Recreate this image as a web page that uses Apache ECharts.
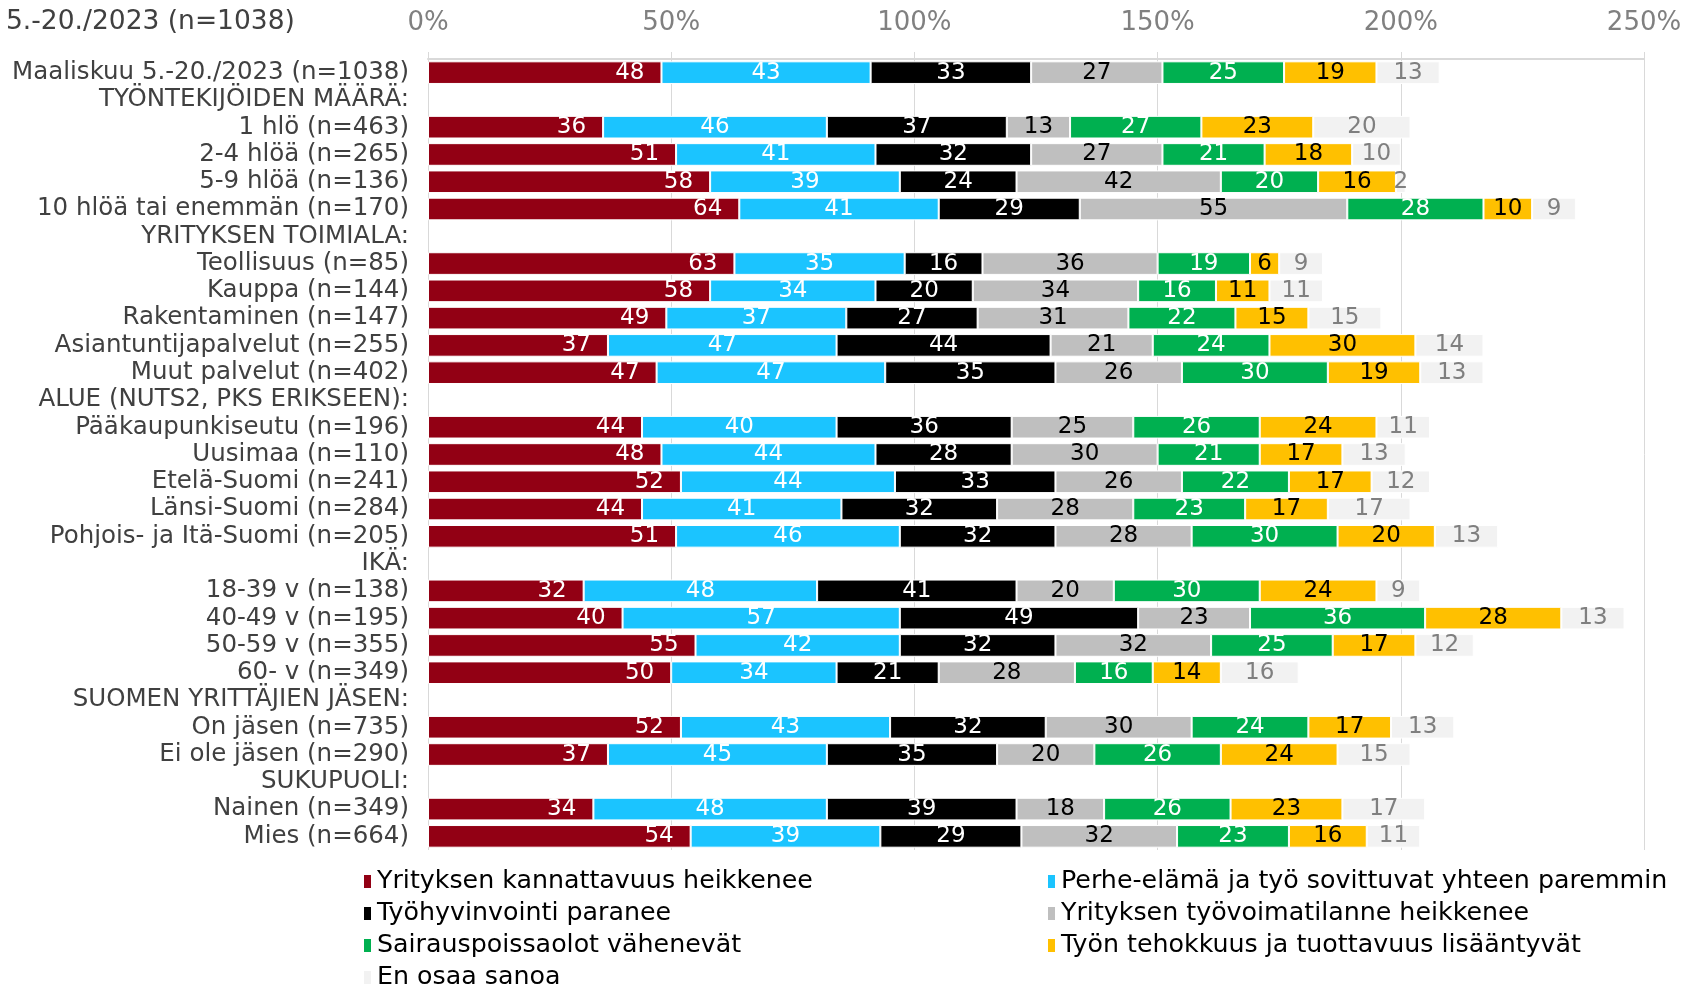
<!DOCTYPE html>
<html>
<head>
<meta charset="utf-8">
<script src="https://cdn.jsdelivr.net/npm/echarts@6/dist/echarts.min.js"></script>
<style>
  html, body { margin: 0; padding: 0; background: #fff; }
  #chart { width: 1685px; height: 985px; }
</style>
</head>
<body>
<div id="chart"></div>
<script>
// rivit ylhäältä alas (otsikkoriveillä ei arvoja)
const categories = [
  'Maaliskuu 5.-20./2023 (n=1038)',
  'TYÖNTEKIJÖIDEN MÄÄRÄ:',
  '1 hlö (n=463)',
  '2-4 hlöä (n=265)',
  '5-9 hlöä (n=136)',
  '10 hlöä tai enemmän (n=170)',
  'YRITYKSEN TOIMIALA:',
  'Teollisuus (n=85)',
  'Kauppa (n=144)',
  'Rakentaminen (n=147)',
  'Asiantuntijapalvelut (n=255)',
  'Muut palvelut (n=402)',
  'ALUE (NUTS2, PKS ERIKSEEN):',
  'Pääkaupunkiseutu (n=196)',
  'Uusimaa (n=110)',
  'Etelä-Suomi (n=241)',
  'Länsi-Suomi (n=284)',
  'Pohjois- ja Itä-Suomi (n=205)',
  'IKÄ:',
  '18-39 v (n=138)',
  '40-49 v (n=195)',
  '50-59 v (n=355)',
  '60- v (n=349)',
  'SUOMEN YRITTÄJIEN JÄSEN:',
  'On jäsen (n=735)',
  'Ei ole jäsen (n=290)',
  'SUKUPUOLI:',
  'Nainen (n=349)',
  'Mies (n=664)'
]

const seriesNames = [
  'Yrityksen kannattavuus heikkenee',
  'Perhe-elämä ja työ sovittuvat yhteen paremmin',
  'Työhyvinvointi paranee',
  'Yrityksen työvoimatilanne heikkenee',
  'Sairauspoissaolot vähenevät',
  'Työn tehokkuus ja tuottavuus lisääntyvät',
  'En osaa sanoa'
]

const kannattavuus = [48, null, 36, 51, 58, 64, null, 63, 58, 49, 37, 47, null, 44, 48, 52, 44, 51, null, 32, 40, 55, 50, null, 52, 37, null, 34, 54]
const perhe = [43, null, 46, 41, 39, 41, null, 35, 34, 37, 47, 47, null, 40, 44, 44, 41, 46, null, 48, 57, 42, 34, null, 43, 45, null, 48, 39]
const hyvinvointi = [33, null, 37, 32, 24, 29, null, 16, 20, 27, 44, 35, null, 36, 28, 33, 32, 32, null, 41, 49, 32, 21, null, 32, 35, null, 39, 29]
const tyovoima = [27, null, 13, 27, 42, 55, null, 36, 34, 31, 21, 26, null, 25, 30, 26, 28, 28, null, 20, 23, 32, 28, null, 30, 20, null, 18, 32]
const sairaus = [25, null, 27, 21, 20, 28, null, 19, 16, 22, 24, 30, null, 26, 21, 22, 23, 30, null, 30, 36, 25, 16, null, 24, 26, null, 26, 23]
const tehokkuus = [19, null, 23, 18, 16, 10, null, 6, 11, 15, 30, 19, null, 24, 17, 17, 17, 20, null, 24, 28, 17, 14, null, 17, 24, null, 23, 16]
const eos = [13, null, 20, 10, 2, 9, null, 9, 11, 15, 14, 13, null, 11, 13, 12, 17, 13, null, 9, 13, 12, 16, null, 13, 15, null, 17, 11]

const xTicks = [0, 50, 100, 150, 200, 250]

const values = [kannattavuus, perhe, hyvinvointi, tyovoima, sairaus, tehokkuus, eos]
const colors = ['#920014', '#1BC4FF', '#000000', '#BFBFBF', '#00B050', '#FFC000', '#F2F2F2']
const labelColors = ['#fff', '#fff', '#fff', '#000', '#fff', '#000', '#7F7F7F']

const FONT = 'DejaVu Sans'

const chart = echarts.init(document.getElementById('chart'))

const series = values.map((data, i) => ({
  name: seriesNames[i],
  type: 'bar',
  stack: 'total',
  data: data,
  barCategoryGap: '17%',
  itemStyle: { color: colors[i], borderColor: '#fff', borderWidth: 1 },
  label: {
    show: true,
    position: i === 0 ? 'insideRight' : 'inside',
    distance: 17,
    color: labelColors[i],
    fontFamily: FONT,
    fontSize: 23,
    formatter: p => (p.value == null ? '' : p.value)
  },
  emphasis: { disabled: true },
  animation: false
}))

const legendBase = {
  orient: 'vertical',
  top: 864,
  height: 130,
  itemWidth: 9,
  itemHeight: 15,
  itemGap: 7,
  icon: 'rect',
  textStyle: { fontSize: 25.3, color: '#000', fontFamily: FONT, lineHeight: 25 },
  selectedMode: false
}

chart.setOption({
  textStyle: { fontFamily: FONT },
  graphic: [{
    type: 'text',
    left: 6,
    top: 9,
    style: { text: '5.-20./2023 (n=1038)', fill: '#404040', font: '26.5px "' + FONT + '"' }
  }],
  legend: [
    Object.assign({}, legendBase, {
      data: [seriesNames[0], seriesNames[2], seriesNames[4], seriesNames[6]],
      left: 357
    }),
    Object.assign({}, legendBase, {
      data: [seriesNames[1], seriesNames[3], seriesNames[5]],
      left: 1041
    })
  ],
  grid: { left: 428, right: 41, top: 59, bottom: 135, containLabel: false },
  xAxis: {
    type: 'value',
    position: 'top',
    min: xTicks[0],
    max: xTicks[xTicks.length - 1],
    interval: 50,
    axisLine: { show: true, lineStyle: { color: '#D9D9D9', width: 2 } },
    axisTick: { show: true, length: 7, lineStyle: { color: '#D9D9D9' } },
    splitLine: { show: true, lineStyle: { color: '#D9D9D9' } },
    axisLabel: { formatter: '{value}%', color: '#808080', fontSize: 26, fontFamily: FONT, margin: 23 }
  },
  yAxis: {
    type: 'category',
    inverse: true,
    data: categories,
    axisLine: { show: false },
    axisTick: { show: false },
    axisLabel: { color: '#404040', fontSize: 24.5, fontFamily: FONT, margin: 19, interval: 0 }
  },
  series: series
})
</script>
</body>
</html>
